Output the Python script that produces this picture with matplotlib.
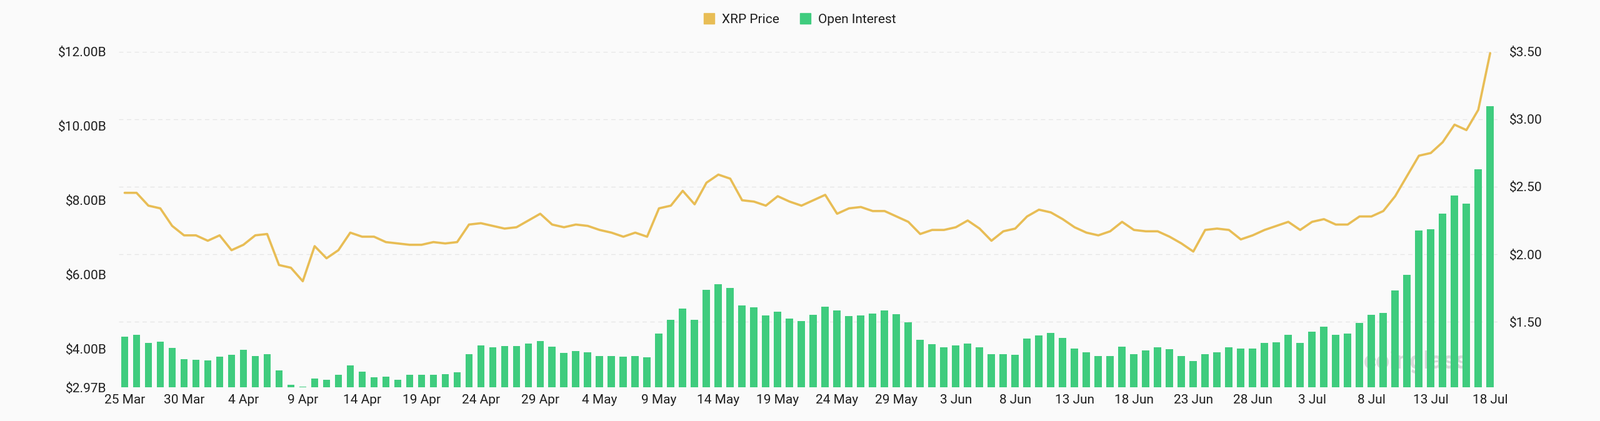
import numpy as np
import matplotlib.pyplot as plt
from matplotlib.patches import Patch
import datetime as dt

# =========================
# Data
# =========================

START = dt.date(2025, 3, 25)

open_interest_b = [
    4.33, 4.38, 4.16, 4.20, 4.03, 3.73, 3.71, 3.69, 3.80, 3.85,
    3.98, 3.82, 3.87, 3.43, 3.04, 2.99, 3.20, 3.17, 3.30, 3.56,
    3.40, 3.24, 3.26, 3.17, 3.30, 3.30, 3.31, 3.33, 3.37, 3.87,
    4.09, 4.05, 4.08, 4.08, 4.14, 4.22, 4.07, 3.89, 3.95, 3.91,
    3.82, 3.82, 3.79, 3.82, 3.78, 4.41, 4.79, 5.09, 4.79, 5.59,
    5.74, 5.65, 5.17, 5.13, 4.90, 5.00, 4.82, 4.76, 4.92, 5.14,
    5.04, 4.89, 4.91, 4.95, 5.04, 4.94, 4.72, 4.25, 4.13, 4.05,
    4.09, 4.15, 4.04, 3.87, 3.87, 3.84, 4.29, 4.36, 4.44, 4.30,
    4.01, 3.91, 3.82, 3.82, 4.07, 3.87, 3.96, 4.04, 3.99, 3.82,
    3.67, 3.87, 3.91, 4.04, 4.01, 4.01, 4.17, 4.19, 4.38, 4.16,
    4.47, 4.61, 4.39, 4.42, 4.70, 4.92, 4.98, 5.57, 6.00, 7.19,
    7.23, 7.64, 8.13, 7.91, 8.84, 10.53,
]

xrp_price = [
    2.455, 2.455, 2.36, 2.34, 2.21, 2.14, 2.14, 2.10, 2.14, 2.03,
    2.07, 2.14, 2.15, 1.92, 1.90, 1.80, 2.06, 1.97, 2.03, 2.16,
    2.13, 2.13, 2.09, 2.08, 2.07, 2.07, 2.09, 2.08, 2.09, 2.22,
    2.23, 2.21, 2.19, 2.20, 2.25, 2.30, 2.22, 2.20, 2.22, 2.21,
    2.18, 2.16, 2.13, 2.16, 2.13, 2.34, 2.36, 2.47, 2.37, 2.53,
    2.59, 2.56, 2.40, 2.39, 2.36, 2.43, 2.39, 2.36, 2.40, 2.44,
    2.30, 2.34, 2.35, 2.32, 2.32, 2.28, 2.24, 2.15, 2.18, 2.18,
    2.20, 2.25, 2.19, 2.10, 2.17, 2.19, 2.28, 2.33, 2.31, 2.26,
    2.20, 2.16, 2.14, 2.17, 2.24, 2.18, 2.17, 2.17, 2.13, 2.08,
    2.02, 2.18, 2.19, 2.18, 2.11, 2.14, 2.18, 2.21, 2.24, 2.18,
    2.24, 2.26, 2.22, 2.22, 2.28, 2.28, 2.32, 2.43, 2.58, 2.73,
    2.75, 2.83, 2.96, 2.92, 3.07, 3.49,
]

left_ticks = [2.97, 4.0, 6.0, 8.0, 10.0, 12.0]
right_ticks = [1.5, 2.0, 2.5, 3.0, 3.5]

# =========================
# Style
# =========================

BG = "#fafafa"
GOLD = "#e8bd55"
GREEN = "#3fcc7e"
TEXT = "#1e1e1e"
plt.rcParams["font.family"] = "Roboto"

days = np.arange(len(open_interest_b))
dates = [START + dt.timedelta(days=int(i)) for i in days]

fig = plt.figure(figsize=(25.6, 6.74), dpi=100, facecolor=BG)
ax = fig.add_axes([0.0742, 0.08, 0.8616, 0.797], facecolor=BG)
ax2 = ax.twinx()

ax.bar(days, open_interest_b, width=0.62, color=GREEN, zorder=2)
ax.set_ylim(2.97, 12.0)
ax.set_xlim(-0.5, len(days) - 0.4)
ax.set_yticks(left_ticks)
ax.set_yticklabels([f"${v:.2f}B" for v in left_ticks])

ax2.plot(days, xrp_price, color=GOLD, linewidth=2.6, zorder=3,
         solid_joinstyle="round", solid_capstyle="round")
ax2.set_ylim(1.014, 3.5)
ax2.set_yticks(right_ticks)
ax2.set_yticklabels([f"${v:.2f}" for v in right_ticks])
ax2.grid(True, axis="y", color="#e6e6e6", linestyle=(0, (5, 4)), linewidth=1)
ax.set_zorder(ax2.get_zorder() + 1)
ax.patch.set_visible(False)
ax2.patch.set_facecolor(BG)

tick_idx = days[::5]
ax.set_xticks(tick_idx)
ax.set_xticklabels([f"{dates[i].day} {dates[i].strftime('%b')}" for i in tick_idx])

for a in (ax, ax2):
    for s in a.spines.values():
        s.set_visible(False)
    a.tick_params(length=0, labelsize=15, colors=TEXT)
ax.tick_params(axis="x", pad=8)
ax.tick_params(axis="y", pad=14)
ax2.tick_params(axis="y", pad=14)

# Legend
handles = [Patch(color=GOLD, label="XRP Price"), Patch(color=GREEN, label="Open Interest")]
fig.legend(handles=handles, loc="center", bbox_to_anchor=(0.5, 0.954), ncol=2,
           frameon=False, fontsize=15, handlelength=0.8, handleheight=0.9,
           columnspacing=1.6, handletextpad=0.6, labelcolor=TEXT)

fig.text(0.885, 0.14, "coinglass", fontsize=28, color="#d8d8d8", ha="center", va="center",
         fontweight="bold", zorder=0)

fig.savefig("out.png", dpi=100, facecolor=BG)
